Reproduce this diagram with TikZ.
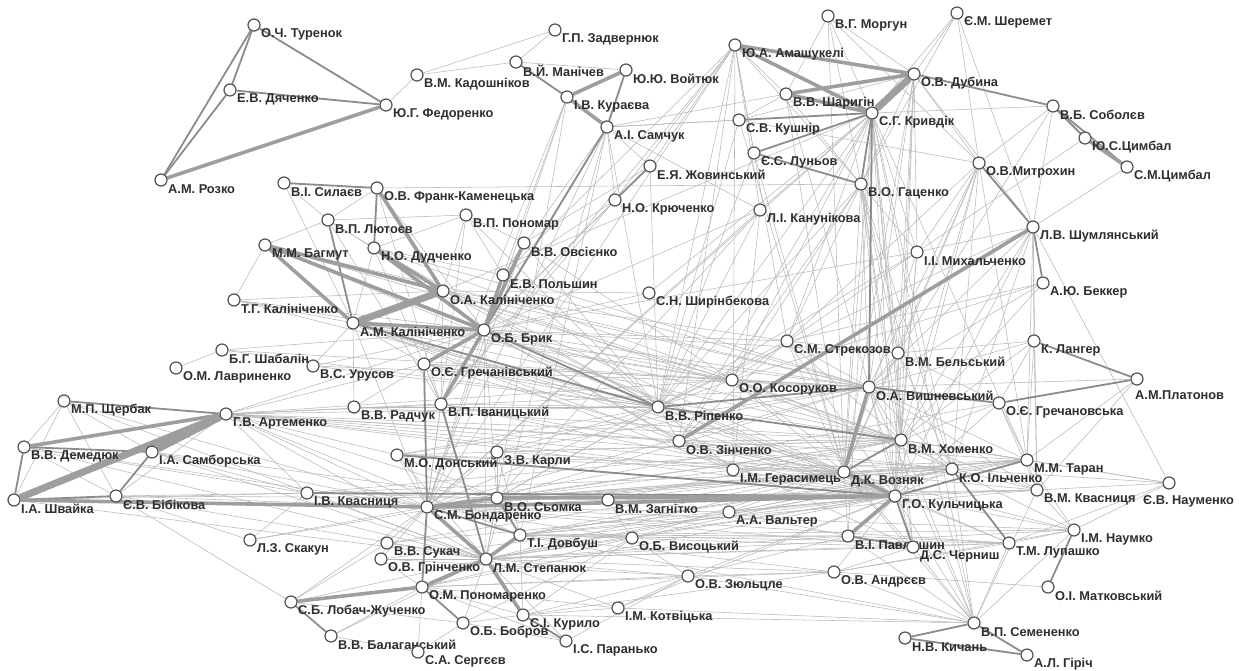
\documentclass[tikz,border=0pt]{standalone}
\usepackage{fontspec}
\setmainfont{Liberation Sans}
\usetikzlibrary{backgrounds}

\newcommand{\prs}[4]{\node[pers] (#1) at (#2,#3) {};
  \node[lbl] (#1-t) at ([xshift=7pt,yshift=-9pt]#1.center) {#4};}

\begin{document}
\begin{tikzpicture}[x=1pt,y=-1pt]
\tikzset{pers/.style={circle,draw=black!68,fill=white,line width=1.2pt,minimum size=12pt,inner sep=0pt},
  lbl/.style={anchor=west,inner sep=0pt,text=black!82,font=\bfseries\fontsize{12.8}{13}\selectfont},
  ln/.style={draw=black!28,line width=0.55pt},
  lm/.style={draw=black!45,line width=1.8pt},
  lt/.style={draw=black!38,line width=3.6pt},
  lx/.style={draw=black!38,line width=7pt}}
\useasboundingbox (0,0) rectangle (1239,670);

% top
\prs{tur}{254}{25}{О.Ч. Туренок}
\prs{dya}{230}{90}{Е.В. Дяченко}
\prs{fed}{386}{105}{Ю.Г. Федоренко}
\prs{roz}{161}{180}{А.М. Розко}
\prs{kad}{417}{75}{В.М. Кадошніков}
\prs{zad}{555}{30}{Г.П. Задвернюк}
\prs{man}{516}{62}{В.Й. Манічев}
\prs{voy}{626}{70}{Ю.Ю. Войтюк}
\prs{kur}{567}{97}{І.В. Кураєва}
\prs{sam}{607}{127}{А.І. Самчук}
\prs{ama}{735}{45}{Ю.А. Амашукелі}
\prs{mor}{828}{16}{В.Г. Моргун}
\prs{she}{957}{13}{Є.М. Шеремет}
\prs{dub}{914}{74}{О.В. Дубина}
\prs{shar}{786}{94}{В.В. Шаригін}
\prs{kry}{872}{113}{С.Г. Кривдік}
\prs{kush}{739}{120}{С.В. Кушнір}
\prs{lun}{754}{153}{Є.С. Луньов}
\prs{zhov}{650}{166}{Е.Я. Жовинський}
\prs{kryu}{615}{200}{Н.О. Крюченко}
\prs{kan}{760}{210}{Л.І. Канунікова}
\prs{gac}{861}{184}{В.О. Гаценко}
\prs{sob}{1053}{106}{В.Б. Соболєв}
\prs{ycym}{1085}{138}{Ю.С.Цимбал}
\prs{scym}{1127}{167}{С.М.Цимбал}
\prs{mit}{979}{163}{О.В.Митрохин}
\prs{shum}{1033}{227}{Л.В. Шумлянський}
% middle
\prs{sil}{284}{183}{В.І. Силаєв}
\prs{frk}{377}{188}{О.В. Франк-Каменецька}
\prs{lyu}{328}{220}{В.П. Лютоєв}
\prs{pon}{466}{215}{В.П. Пономар}
\prs{bag}{265}{245}{М.М. Багмут}
\prs{dud}{374}{248}{Н.О. Дудченко}
\prs{ovs}{524}{243}{В.В. Овсієнко}
\prs{pol}{503}{275}{Е.В. Польшин}
\prs{oak}{443}{291}{О.А. Калініченко}
\prs{tgk}{234}{300}{Т.Г. Калініченко}
\prs{amk}{353}{323}{А.М. Калініченко}
\prs{bry}{484}{330}{О.Б. Брик}
\prs{shir}{649}{293}{С.Н. Ширінбекова}
\prs{shab}{222}{350}{Б.Г. Шабалін}
\prs{lav}{176}{368}{О.М. Лавриненко}
\prs{uru}{313}{366}{В.С. Урусов}
\prs{grv}{424}{364}{О.Є. Гречанівський}
\prs{rad}{354}{407}{В.В. Радчук}
\prs{iva}{441}{404}{В.П. Іваницький}
\prs{shch}{64}{401}{М.П. Щербак}
\prs{art}{226}{414}{Г.В. Артеменко}
\prs{str}{787}{341}{С.М. Стрекозов}
\prs{bel}{898}{353}{В.М. Бельський}
\prs{kos}{732}{380}{О.О. Косоруков}
\prs{vis}{869}{387}{О.А. Вишневський}
\prs{rip}{658}{407}{В.В. Ріпенко}
\prs{zin}{679}{441}{О.В. Зінченко}
\prs{mykh}{917}{252}{І.І. Михальченко}
\prs{bek}{1043}{283}{А.Ю. Беккер}
\prs{lan}{1034}{341}{К. Лангер}
\node[pers] (pla) at (1137,379) {};
\node[lbl] (pla-t) at ([xshift=-2pt,yshift=-16pt]pla.center) {А.М.Платонов};
\prs{grs}{999}{403}{О.Є. Гречановська}
\prs{hom}{901}{440}{В.М. Хоменко}
% bottom
\prs{dem}{24}{447}{В.В. Демедюк}
\prs{samb}{152}{452}{І.А. Самборська}
\prs{shv}{14}{500}{І.А. Швайка}
\prs{bib}{116}{496}{Є.В. Бібікова}
\prs{ska}{250}{540}{Л.З. Скакун}
\prs{lob}{291}{602}{С.Б. Лобач-Жученко}
\prs{kvi}{307}{493}{І.В. Квасниця}
\prs{don}{397}{455}{М.О. Донський}
\prs{kar}{497}{452}{З.В. Карли}
\prs{syo}{497}{498}{В.О. Сьомка}
\prs{bon}{427}{507}{С.М. Бондаренко}
\prs{dov}{520}{535}{Т.І. Довбуш}
\prs{suk}{387}{543}{В.В. Сукач}
\prs{gri}{381}{559}{О.В. Грінченко}
\prs{ste}{486}{559}{Л.М. Степанюк}
\prs{pnm}{422}{587}{О.М. Пономаренко}
\prs{kuri}{523}{615}{С.І. Курило}
\prs{bob}{463}{623}{О.Б. Бобров}
\prs{bal}{331}{636}{В.В. Балаганський}
\prs{ser}{418}{652}{С.А. Сергєєв}
\prs{par}{566}{641}{І.С. Паранько}
\prs{zag}{608}{500}{В.М. Загнітко}
\prs{vys}{632}{538}{О.Б. Висоцький}
\prs{zyu}{688}{576}{О.В. Зюльцле}
\prs{kot}{618}{608}{І.М. Котвіцька}
\prs{ger}{733}{470}{І.М. Герасимець}
\prs{voz}{844}{472}{Д.К. Возняк}
\prs{val}{729}{512}{А.А. Вальтер}
\prs{kul}{895}{496}{Г.О. Кульчицька}
\prs{pav}{848}{536}{В.І. Павлишин}
\prs{and}{834}{572}{О.В. Андрєєв}
\prs{che}{913}{547}{Д.С. Черниш}
\prs{ilc}{952}{469}{К.О. Ільченко}
\prs{tar}{1027}{460}{М.М. Таран}
\prs{kvm}{1037}{490}{В.М. Квасниця}
\node[pers] (nau) at (1169,483) {};
\node[lbl] (nau-t) at ([xshift=-26pt,yshift=-18pt]nau.center) {Є.В. Науменко};
\prs{nmk}{1074}{530}{І.М. Наумко}
\prs{lup}{1009}{543}{Т.М. Лупашко}
\prs{mat}{1048}{587}{О.І. Матковський}
\prs{sem}{974}{623}{В.П. Семененко}
\prs{kych}{905}{638}{Н.В. Кичань}
\prs{gir}{1027}{655}{А.Л. Гіріч}

\begin{pgfonlayer}{background}
% weak ties
\foreach \a/\b in {fed/kad,kad/zad,kad/man,man/zad,man/voy,sil/lyu,frk/lyu,frk/gac,lyu/pon,
  sam/zhov,sam/kryu,sam/kan,sam/rip,sam/pol,kur/pol,kur/iva,sam/kush,sam/kry,
  ama/zhov,ama/kryu,ama/kan,ama/gac,ama/rip,ama/str,ama/bon,ama/shar,
  mor/shar,mor/dub,mor/kry,mor/gac,she/dub,she/kry,she/gac,
  dub/mit,dub/kush,dub/gac,dub/bel,dub/shum,dub/vis,dub/mykh,
  kry/kan,kry/str,kry/voz,kry/kul,kry/hom,kry/rip,kry/mykh,kry/bel,kry/kos,kry/zin,kry/bon,kry/sob,
  shar/kush,shar/sam,lun/ama,gac/str,gac/vis,gac/voz,gac/kul,gac/rip,gac/bel,gac/mykh,gac/hom,
  sob/mit,sob/shum,sob/bel,scym/shum,ycym/mykh,mit/vis,mit/mykh,mit/bel,mit/voz,mit/kul,mit/str,
  shum/vis,shum/kul,shum/lan,shum/hom,shum/ilc,shum/mykh,shum/tar,shum/rip,
  mykh/rip,mykh/bry,bek/kos,bek/str,bek/vis,lan/vis,lan/bel,lan/grs,lan/hom,pla/vis,pla/tar,pla/kvm,
  tgk/bag,tgk/amk,tgk/oak,tgk/bry,shab/lav,shab/bry,uru/bry,uru/amk,rad/amk,rad/bry,
  grv/amk,grv/iva,grv/oak,grv/rip,iva/oak,iva/bon,iva/dud,dud/pol,dud/lyu,dud/pon,dud/amk,
  pon/ovs,pon/pol,pon/oak,ovs/pol,ovs/bon,
  bry/kos,bry/vis,bry/hom,bry/voz,bry/kul,bry/ger,bry/zin,bry/str,bry/bel,bry/bon,bry/ste,bry/syo,bry/kan,bry/shir,
  amk/rip,amk/vis,amk/hom,amk/bon,oak/rip,oak/str,oak/kry,lyu/bag,lyu/oak,shir/oak,shir/kry,
  art/bry,art/bon,art/syo,art/rip,art/kos,art/hom,art/kul,art/vis,art/ger,art/zin,art/iva,art/grv,art/ste,art/kvi,art/bib,
  shch/dem,shch/shv,shch/bib,shch/samb,shch/bon,dem/bib,dem/bon,dem/kvi,
  samb/bon,samb/kvi,samb/ste,bib/bon,bib/kvi,bib/lob,bib/ska,shv/ste,
  ska/bon,ska/syo,ska/kvi,kvi/syo,lob/ste,lob/bon,lob/bob,lob/suk,bal/pnm,bal/ser,bal/ste,ser/pnm,ser/bob,
  don/syo,don/bon,don/kul,don/ste,don/vis,kar/syo,kar/bon,kar/dov,kar/vis,
  syo/zag,syo/voz,syo/hom,syo/ste,bon/zag,bon/voz,bon/hom,bon/ilc,bon/ger,bon/suk,bon/gri,bon/vys,bon/val,bon/tar,bon/kvm,
  suk/ste,suk/gri,gri/ste,gri/pnm,dov/kul,dov/voz,dov/vys,dov/pav,dov/tar,dov/kvm,dov/kuri,dov/nmk,
  ste/vys,ste/zyu,ste/kot,ste/par,ste/bob,ste/kul,ste/che,ste/lup,pnm/kuri,pnm/kot,pnm/par,
  kuri/bob,kuri/vys,kuri/kot,bob/par,zag/kul,zag/vys,vys/zyu,vys/kul,vys/pav,zyu/kot,zyu/kul,zyu/and,
  val/kul,val/pav,ger/voz,ger/kul,ger/rip,voz/ilc,voz/tar,voz/kvm,voz/nmk,voz/lup,voz/pav,voz/che,voz/sem,
  kul/ilc,kul/kvm,kul/nmk,kul/lup,kul/sem,kul/and,kul/hom,pav/sem,pav/lup,and/sem,and/mat,and/nmk,
  che/sem,che/lup,ilc/tar,ilc/kvm,ilc/nmk,ilc/hom,tar/nau,tar/kvm,tar/nmk,tar/hom,kvm/nau,kvm/nmk,kvm/hom,
  nau/ilc,nau/hom,nmk/sem,nmk/lup,lup/sem,sem/hom,sem/ilc,sem/kvm,hom/ilc,hom/tar,
  vis/bel,vis/kos,vis/kul,vis/hom,bel/grs,bel/voz,bel/kul,bel/str,kos/rip,kos/hom,
  rip/kul,rip/voz,rip/zin,rip/syo,zin/kul,zin/voz,zin/hom,str/vis,str/rip,str/kul,
  grs/tar,grs/kvm,grs/kul,grs/hom}
  \draw[ln] (\a) -- (\b);
% more weak ties across the middle
\foreach \a/\b in {amk/kos,amk/voz,amk/kul,amk/zin,amk/ger,oak/vis,oak/hom,oak/kos,oak/voz,bag/rip,bag/vis,
  bag/kos,dud/rip,dud/vis,dud/hom,grv/vis,grv/kos,grv/hom,grv/kul,uru/rip,uru/vis,rad/rip,rad/hom,
  iva/rip,iva/kul,iva/voz,tgk/rip,tgk/kos,shab/rip,shab/vis,pol/rip,pol/vis,ovs/rip,ovs/kos,pon/rip,
  pon/bon,frk/bry,frk/ste,lyu/iva,sil/amk,bon/rip,bon/vis,bon/nmk,bon/lup,bon/che,bon/grs,syo/ilc,
  syo/tar,syo/kvm,syo/vis,syo/rip,ste/voz,ste/ilc,ste/tar,ste/nmk,ste/pav,ste/and,dov/che,dov/ilc,
  dov/lup,dov/sem,dov/and,kvi/voz,kvi/hom,kvi/ste,don/voz,don/hom,don/rip,don/ilc,kar/rip,kar/hom,
  kar/voz,suk/voz,suk/kul,gri/kul,gri/zyu,pnm/vys,pnm/zyu,pnm/and,pnm/kul,kuri/zyu,kuri/and,kuri/sem,
  par/zyu,kot/kul,kot/sem,bob/vys,ama/iva,ama/pol,ama/zin,ama/ger,sam/iva,sam/bon,sam/dov,sam/ste,
  kur/bon,kur/ste,zhov/rip,zhov/bry,zhov/ovs,kryu/bry,kryu/iva,kryu/pol,kan/bon,kan/rip,kan/ger,
  kan/syo,lun/rip,lun/voz,kush/voz,kush/rip,kush/mit,shar/gac,shar/vis,shar/voz,mor/voz,mor/mit,
  she/mit,she/shum,dub/voz,dub/kul,dub/hom,kry/che,kry/pav,kry/sem,kry/ilc,kry/tar,gac/che,
  gac/sem,gac/ilc,gac/zin,gac/kos,mit/hom,mit/ilc,mit/tar,mykh/kul,mykh/voz,mykh/hom,mykh/kos,
  str/voz,str/hom,str/zin,kos/kul,kos/voz,kos/ilc,kos/grs,bel/hom,bel/ilc,vis/ilc,vis/tar,vis/kvm,
  vis/che,vis/sem,zin/ilc,zin/che,ger/hom,ger/tar,zag/voz,zag/hom,val/voz,val/ilc,vys/voz,vys/ilc,
  zyu/pav,zyu/sem,and/che,and/lup,shum/nau,shum/kvm,bek/hom,lan/tar,lan/kvm,nau/lup,nau/nmk,
  art/voz,art/ilc,art/tar,art/dov,art/don,shch/ste,dem/ste,samb/syo,bib/ste,bib/syo,shv/kvi}
  \draw[ln] (\a) -- (\b);
% medium ties
\foreach \a/\b in {tur/dya,tur/roz,tur/fed,dya/fed,dya/roz,man/kur,voy/sam,dub/sob,sob/ycym,sob/scym,
  mit/shum,shum/bek,kry/gac,gac/lun,lun/kry,zhov/kryu,art/shch,dem/shv,shv/bib,samb/bib,dem/samb,
  lob/bal,pnm/bob,kuri/par,sem/gir,kych/gir,kych/sem,nmk/mat,grs/pla,lan/pla,vis/grs,rip/hom,
  syo/dov,bon/dov,bon/pnm,sam/bry,kry/vis,frk/dud,lyu/amk,voz/hom,kul/che,kul/tar,ilc/lup,kry/kush,
  iva/ste,grv/bon,rip/vis,bry/rip,pav/che,kvi/kul,sil/frk,don/kul,amk/rip}
  \draw[lm] (\a) -- (\b);
% strong ties
\foreach \a/\b in {roz/fed,ycym/scym,ama/kry,ama/dub,shar/dub,shar/kry,kur/voy,kur/sam,bag/bry,bag/amk,
  frk/oak,dud/bry,amk/bry,bry/pol,bry/ovs,bry/iva,bry/grv,bon/ste,bon/syo,ste/dov,ste/pnm,ste/kuri,
  lob/pnm,art/dem,voz/kul,kul/pav,shum/zin,bon/kul,shv/bon,bag/oak,dud/oak,vis/voz,syo/kul}
  \draw[lt] (\a) -- (\b);
\foreach \a/\b in {dub/kry,amk/oak,art/shv,art/samb}
  \draw[lx] (\a) -- (\b);
\end{pgfonlayer}
\end{tikzpicture}
\end{document}
